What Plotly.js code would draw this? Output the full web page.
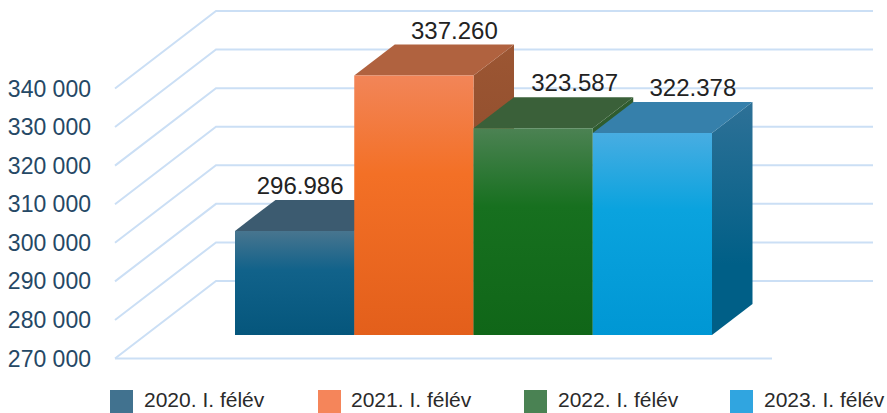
<!DOCTYPE html>
<html><head><meta charset="utf-8">
<script src="https://cdn.plot.ly/plotly-3.0.1.min.js"></script>
<style>html,body{margin:0;padding:0;background:#fff;overflow:hidden}#c{width:887px;height:413px}</style>
</head><body><div id="c"></div>
<script>
const categories = ["2020. I. félév","2021. I. félév","2022. I. félév","2023. I. félév"];
const values = [296986,337260,323587,322378];
const valueLabels = ["296.986","337.260","323.587","322.378"];
const axisTicks = [270000,280000,290000,300000,310000,320000,330000,340000];
const axisTickLabels = ["270 000","280 000","290 000","300 000","310 000","320 000","330 000","340 000"];
const legendColors = ["#41728f","#f5855a","#4a8253","#30a5e0"];
const frontColors = [["#48758f","#11628a","#05567c"],["#f28558","#f37026","#e35f1b"],["#4c8253","#17701f","#106618"],["#48ade2","#0aa3de","#0097d4"]];
const sideColors = [["#3c5b70","#064f72"],["#9c5633","#8a4a2a"],["#2f5c2f","#2f5c2f"],["#2e7197","#005f87"]];
const topColors = ["#3c5b70","#b0623f","#3a6039","#3680ab"];

// pixel scale of the pseudo-3D projection, expressed in axis units
const W=887,H=413,L=100, SLOT=119.25, X0=235, PPV=270/70000, Y270=358.5;
const xr=[(L-X0)/SLOT,(W-X0)/SLOT];
const yr=[270000-(H-Y270)/PPV,270000+Y270/PPV];
const wallDX=101/SLOT, wallDY=77.5/PPV, barDX=40.5/SLOT, barDY=31/PPV, lift=23.5/PPV;
const gridLeft=(115-X0)/SLOT, gridRight=(772-X0)/SLOT;
const baseV=270000+lift;
const labelNudge=[-35/SLOT,0,1/SLOT,0];

const traces=[];
function face(xs,ys,colors){
  const n=colors.length;
  const t={x:xs.concat(xs[0]),y:ys.concat(ys[0]),mode:'lines',line:{width:0},fill:'toself',hoverinfo:'skip',showlegend:false};
  if(n===1){t.fillcolor=colors[0];}
  else{
    const cs=n===3?[[0,colors[2]],[0.62,colors[1]],[1,colors[0]]]:[[0,colors[1]],[0.3,colors[1]],[1,colors[0]]];
    t.fillcolor=colors[0];
    t.fillgradient={type:'vertical',colorscale:cs};
  }
  return t;
}
// gridlines
const gridStyle={color:'#cbdff5',width:2};
axisTicks.forEach(v=>{
  traces.push({x:[gridLeft,gridLeft+wallDX,gridRight+wallDX],y:[v,v+wallDY,v+wallDY],mode:'lines',
    line:gridStyle,hoverinfo:'skip',showlegend:false});
});
traces.push({x:[gridLeft,gridRight],y:[270000,270000],mode:'lines',line:gridStyle,hoverinfo:'skip',showlegend:false});
// bars
values.forEach((v,i)=>{
  const x0=i,x1=i+1,top=v+lift;
  traces.push(face([x1,x1+barDX,x1+barDX,x1],[baseV,baseV+barDY,top+barDY,top],sideColors[i]));
  traces.push(face([x0,x1,x1+barDX,x0+barDX],[top,top,top+barDY,top+barDY],[topColors[i]]));
  traces.push(face([x0,x1,x1,x0],[baseV,baseV,top,top],frontColors[i]));
});
// value labels
traces.push({x:values.map((v,i)=>i+0.5+barDX+labelNudge[i]),y:values.map(v=>v+lift+barDY+12/PPV),
  mode:'text',text:valueLabels,textposition:'middle center',cliponaxis:false,
  textfont:{family:'Liberation Sans, Arial, sans-serif',size:24,color:'#222222'},hoverinfo:'skip',showlegend:false});
// legend
const legendSwatchX=[121.5,329.5,535.5,741.5].map(p=>(p-X0)/SLOT);
const legendTextX=[144,351,558,764].map(p=>(p-X0)/SLOT);
const legendY=270000-(401.5-Y270)/PPV;
traces.push({x:legendSwatchX,y:categories.map(()=>legendY),mode:'markers',cliponaxis:false,
  marker:{symbol:'square',size:23,color:legendColors,line:{width:0}},hoverinfo:'skip',showlegend:false});
traces.push({x:legendTextX,y:categories.map(()=>legendY),mode:'text',text:categories,textposition:'middle right',cliponaxis:false,
  textfont:{family:'Liberation Sans, Arial, sans-serif',size:21,color:'#2a2a2a'},hoverinfo:'skip',showlegend:false});

Plotly.newPlot('c',traces,{
  width:W,height:H,margin:{l:L,r:0,t:0,b:0,pad:0},paper_bgcolor:'#fff',plot_bgcolor:'rgba(0,0,0,0)',showlegend:false,
  xaxis:{range:xr,visible:false,fixedrange:true},
  yaxis:{range:yr,showgrid:false,zeroline:false,showline:false,ticks:'',tickmode:'array',tickvals:axisTicks,ticktext:axisTickLabels,
    tickfont:{family:'Liberation Sans, Arial, sans-serif',size:23,color:'#254865'},ticklabelstandoff:8,fixedrange:true}
},{staticPlot:true,displayModeBar:false});
</script></body></html>
